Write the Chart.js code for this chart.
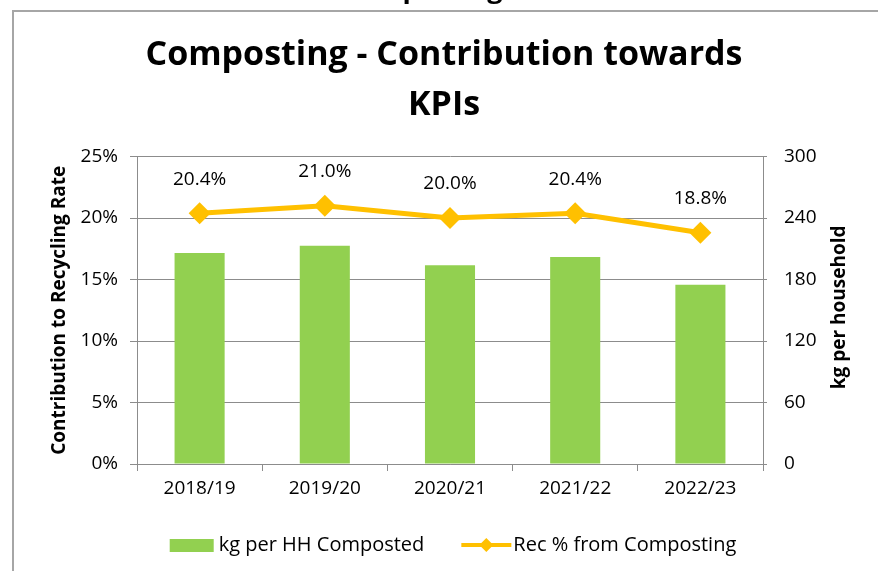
<!DOCTYPE html>
<html>
<head>
<meta charset="utf-8">
<script src="https://cdn.jsdelivr.net/npm/chart.js@4.4.0/dist/chart.umd.min.js"></script>
<style>
  html, body { margin: 0; padding: 0; background: #fff; }
  #wrap { width: 878px; height: 571px; position: relative; }
</style>
</head>
<body>
<div id="wrap"><canvas id="chart"></canvas></div>
<script>
const years = ['2018/19', '2019/20', '2020/21', '2021/22', '2022/23'];
const kgPerHH = [206, 213, 194, 202, 175];
const recPct = [20.4, 21.0, 20.0, 20.4, 18.8];
const pctTicks = [0, 5, 10, 15, 20, 25];
const kgTicks = [0, 60, 120, 180, 240, 300];

const green = '#92D050';
const gold = '#FFC000';
const gridGrey = '#8c8c8c';
const fam = '"Open Sans", sans-serif';

// frame + cut-off heading above the chart box
const framePlugin = {
    id: 'frame',
    beforeDraw(chart) {
        const ctx = chart.ctx;
        ctx.save();
        ctx.fillStyle = '#fff';
        ctx.fillRect(0, 0, chart.width, chart.height);
        ctx.strokeStyle = '#a6a6a6';
        ctx.lineWidth = 2;
        ctx.beginPath();
        ctx.moveTo(13, chart.height);
        ctx.lineTo(13, 11);
        ctx.lineTo(chart.width, 11);
        ctx.stroke();
        ctx.fillStyle = '#000';
        ctx.font = 'bold 27px ' + fam;
        ctx.textBaseline = 'alphabetic';
        ctx.textAlign = 'left';
        ctx.fillText('Composting', 342, -2);
        ctx.restore();
    }
};

// value labels above the line points + right axis title (reads bottom to top)
const labelPlugin = {
    id: 'pointLabels',
    afterDatasetsDraw(chart) {
        const ctx = chart.ctx;
        const meta = chart.getDatasetMeta(0);
        ctx.save();
        ctx.fillStyle = '#000';
        ctx.font = '19px ' + fam;
        ctx.textAlign = 'center';
        ctx.textBaseline = 'middle';
        meta.data.forEach((pt, i) => {
            ctx.fillText(recPct[i].toFixed(1) + '%', pt.x, pt.y - 34);
        });
        const area = chart.chartArea;
        ctx.translate(840, (area.top + area.bottom) / 2 - 3);
        ctx.rotate(-Math.PI / 2);
        ctx.font = 'bold 19px ' + fam;
        ctx.fillText('kg per household', 0, 0);
        ctx.restore();
    }
};

// bottom legend, Excel style (box for bars, line with diamond for the line)
const legendPlugin = {
    id: 'xlLegend',
    afterDraw(chart) {
        const ctx = chart.ctx;
        const y = 545;
        ctx.save();
        ctx.font = '20px ' + fam;
        ctx.textBaseline = 'middle';
        ctx.textAlign = 'left';
        const t1 = chart.data.datasets[1].label;
        const t2 = chart.data.datasets[0].label;
        const w1 = 44 + 5 + ctx.measureText(t1).width;
        const w2 = 50 + 2 + ctx.measureText(t2).width;
        let x = 453 - (w1 + 37 + w2) / 2;
        ctx.fillStyle = green;
        ctx.fillRect(x, y - 6, 44, 13);
        ctx.fillStyle = '#000';
        ctx.fillText(t1, x + 49, y);
        x += w1 + 37;
        ctx.strokeStyle = gold;
        ctx.lineWidth = 4;
        ctx.beginPath();
        ctx.moveTo(x, y);
        ctx.lineTo(x + 50, y);
        ctx.stroke();
        ctx.fillStyle = gold;
        ctx.beginPath();
        ctx.moveTo(x + 25, y - 7);
        ctx.lineTo(x + 32, y);
        ctx.lineTo(x + 25, y + 7);
        ctx.lineTo(x + 18, y);
        ctx.closePath();
        ctx.fill();
        ctx.fillStyle = '#000';
        ctx.fillText(t2, x + 52, y);
        ctx.restore();
    }
};

new Chart(document.getElementById('chart'), {
    type: 'bar',
    data: {
        labels: years,
        datasets: [{
            type: 'line',
            label: 'Rec % from Composting',
            data: recPct,
            yAxisID: 'y',
            borderColor: gold,
            backgroundColor: gold,
            borderWidth: 5,
            pointStyle: 'rectRot',
            pointRadius: 11,
            pointBorderWidth: 0,
            pointBackgroundColor: gold,
            tension: 0
        }, {
            label: 'kg per HH Composted',
            data: kgPerHH,
            yAxisID: 'y1',
            backgroundColor: green,
            barPercentage: 0.4,
            categoryPercentage: 1
        }]
    },
    options: {
        responsive: true,
        maintainAspectRatio: false,
        animation: false,
        layout: { padding: { top: 0, left: 10, right: 0, bottom: 0 } },
        plugins: {
            legend: { display: false },
            tooltip: { enabled: false },
            title: {
                display: true,
                text: ['Composting - Contribution towards', 'KPIs'],
                color: '#000',
                font: { family: fam, size: 34, weight: 'bold', lineHeight: 1.45 },
                padding: { top: 31, bottom: 27 }
            }
        },
        scales: {
            x: {
                grid: { drawOnChartArea: false, drawTicks: true, tickLength: 7, color: gridGrey },
                border: { color: gridGrey, width: 1 },
                ticks: { color: '#000', font: { family: fam, size: 19 }, padding: 6 },
                afterFit(scale) { scale.height = 107; }
            },
            y: {
                position: 'left',
                min: 0,
                max: 25,
                afterBuildTicks(scale) { scale.ticks = pctTicks.map(v => ({ value: v })); },
                grid: { color: gridGrey, tickLength: 7 },
                border: { color: gridGrey, width: 1 },
                ticks: { color: '#000', font: { family: fam, size: 19 }, padding: 12, callback: v => v + '%' },
                title: {
                    display: true,
                    text: 'Contribution to Recycling Rate',
                    color: '#000',
                    font: { family: fam, size: 19, weight: 'bold' },
                    padding: { top: 38, bottom: 0 }
                },
                afterFit(scale) { scale.width = 127; }
            },
            y1: {
                position: 'right',
                min: 0,
                max: 300,
                afterBuildTicks(scale) { scale.ticks = kgTicks.map(v => ({ value: v })); },
                grid: { drawOnChartArea: false, color: gridGrey, tickLength: 4 },
                border: { color: gridGrey, width: 1 },
                ticks: { color: '#000', font: { family: fam, size: 19 }, padding: 17 },
                afterFit(scale) { scale.width = 115; }
            }
        }
    },
    plugins: [framePlugin, labelPlugin, legendPlugin]
});
</script>
</body>
</html>
